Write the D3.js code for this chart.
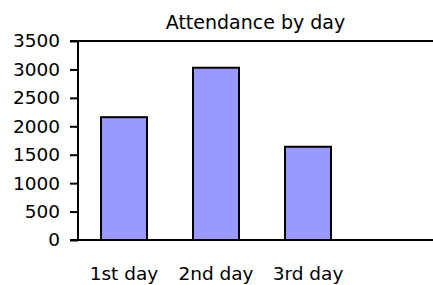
<!DOCTYPE html>
<html>
<head>
<meta charset="utf-8">
<script src="https://cdn.jsdelivr.net/npm/d3@7"></script>
<style>
  body { margin: 0; background: #fff; }
  svg { display: block; font-family: "DejaVu Sans", Verdana, sans-serif; }
</style>
</head>
<body>
<svg id="chart" width="433" height="285"></svg>
<script>
// chart data
const days = ["1st day", "2nd day", "3rd day"];
const attendance = [2160, 3030, 1640];
const yTicks = [0, 500, 1000, 1500, 2000, 2500, 3000, 3500];
const chartTitle = "Attendance by day";

const width = 433, height = 285;
const plotLeft = 78, plotTop = 41, plotBottom = 240;

const svg = d3.select("#chart");

const x = d3.scaleBand()
  .domain(days)
  .range([plotLeft, plotLeft + 92 * days.length])
  .paddingInner(0.5)
  .paddingOuter(0.25);

const y = d3.scaleLinear()
  .domain([0, 3500])
  .range([plotBottom, plotTop]);

// bars
svg.append("g")
  .selectAll("rect")
  .data(days)
  .join("rect")
    .attr("x", d => x(d))
    .attr("y", (d, i) => y(attendance[i]))
    .attr("width", x.bandwidth())
    .attr("height", (d, i) => plotBottom - y(attendance[i]))
    .attr("fill", "#9999ff")
    .attr("stroke", "#000")
    .attr("stroke-width", 2);

// top border of plot area
svg.append("line")
  .attr("x1", plotLeft - 8).attr("x2", width)
  .attr("y1", plotTop).attr("y2", plotTop)
  .attr("stroke", "#000").attr("stroke-width", 2);

// y axis
const yAxis = svg.append("g")
  .attr("transform", `translate(${plotLeft},0)`)
  .call(d3.axisLeft(y).tickValues(yTicks).tickSize(8).tickPadding(10).tickFormat(d3.format("d")));
yAxis.select(".domain").remove();
yAxis.selectAll(".tick line").attr("stroke", "#000").attr("stroke-width", 2);
yAxis.selectAll("text").attr("font-size", 18.5).attr("fill", "#000")
  .attr("font-family", "DejaVu Sans, Verdana, sans-serif");
yAxis.append("line")
  .attr("x1", 0).attr("x2", 0).attr("y1", plotTop).attr("y2", plotBottom)
  .attr("stroke", "#000").attr("stroke-width", 2);

// x axis baseline and labels
svg.append("line")
  .attr("x1", plotLeft - 8).attr("x2", width)
  .attr("y1", plotBottom).attr("y2", plotBottom)
  .attr("stroke", "#000").attr("stroke-width", 2);

svg.append("g")
  .selectAll("text")
  .data(days)
  .join("text")
    .attr("x", d => x(d) + x.bandwidth() / 2)
    .attr("y", 280)
    .attr("text-anchor", "middle")
    .attr("font-size", 18.5)
    .text(d => d);

// title
svg.append("text")
  .attr("x", (plotLeft + width) / 2)
  .attr("y", 29)
  .attr("text-anchor", "middle")
  .attr("font-size", 19)
  .text(chartTitle);
</script>
</body>
</html>
